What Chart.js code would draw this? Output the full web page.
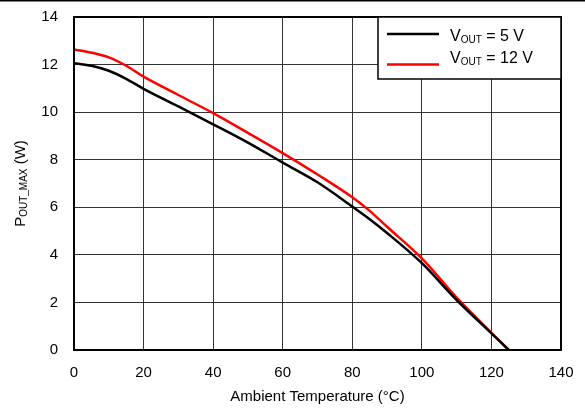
<!DOCTYPE html>
<html>
<head>
<meta charset="utf-8">
<script src="https://cdn.jsdelivr.net/npm/chart.js@4/dist/chart.umd.min.js"></script>
<style>
  html, body { margin: 0; padding: 0; background: #fff; }
  #wrap { width: 585px; height: 411px; }
</style>
</head>
<body>
<div id="wrap"><canvas id="myChart" width="585" height="411"></canvas></div>
<script>
// values
var temps = [0, 5, 10, 15, 20, 30, 40, 50, 60, 70, 80, 85, 90, 100, 110, 120, 125]
var pout5 = [12.06, 11.95, 11.74, 11.4, 10.98, 10.24, 9.49, 8.72, 7.88, 7.05, 6.03, 5.5, 4.92, 3.65, 2.1, 0.7, 0]
var pout12 = [12.63, 12.5, 12.3, 11.95, 11.49, 10.72, 9.96, 9.13, 8.28, 7.38, 6.42, 5.85, 5.18, 3.85, 2.2, 0.72, 0]
var xTicks = [0, 20, 40, 60, 80, 100, 120, 140]
var yTicks = [0, 2, 4, 6, 8, 10, 12, 14]
var seriesNames = ['5 V', '12 V']
var seriesColors = ['#000000', '#ff0000']

var FONT = '"Liberation Sans", Arial, sans-serif'

function toPoints(ys) {
  return temps.map((t, i) => ({ x: t, y: ys[i] }))
}

// draws "V" + subscript "OUT" + rest, returns width
function subText(ctx, x, y, main, sub, rest, size) {
  ctx.font = size + 'px ' + FONT
  ctx.fillText(main, x, y)
  var w = ctx.measureText(main).width
  ctx.font = Math.round(size * 0.65) + 'px ' + FONT
  ctx.fillText(sub, x + w, y + size * 0.22)
  w += ctx.measureText(sub).width
  ctx.font = size + 'px ' + FONT
  ctx.fillText(rest, x + w, y)
  w += ctx.measureText(rest).width
  return w
}

function subWidth(ctx, main, sub, rest, size) {
  ctx.font = size + 'px ' + FONT
  var w = ctx.measureText(main).width + ctx.measureText(rest).width
  ctx.font = Math.round(size * 0.65) + 'px ' + FONT
  return w + ctx.measureText(sub).width
}

var decorPlugin = {
  id: 'decor',
  afterDraw(chart) {
    var ctx = chart.ctx
    var a = chart.chartArea
    ctx.save()
    // frame
    ctx.strokeStyle = '#000'
    ctx.lineWidth = 2
    ctx.strokeRect(a.left, a.top, a.right - a.left, a.bottom - a.top)
    // top rule of the figure
    ctx.fillStyle = '#000'
    ctx.fillRect(0, 0, 585, 1.5)

    // legend box
    var bx = 378, by = a.top, bw = a.right - bx, bh = 62
    ctx.fillStyle = '#fff'
    ctx.fillRect(bx, by, bw, bh)
    ctx.lineWidth = 1.5
    ctx.strokeStyle = '#000'
    ctx.strokeRect(bx, by, bw, bh)
    var lineY = [34, 64.5]
    var textY = [37, 59]
    ctx.textBaseline = 'middle'
    ctx.textAlign = 'left'
    for (var i = 0; i < seriesNames.length; i++) {
      ctx.strokeStyle = seriesColors[i]
      ctx.lineWidth = 2.5
      ctx.beginPath()
      ctx.moveTo(387, lineY[i])
      ctx.lineTo(439, lineY[i])
      ctx.stroke()
      ctx.fillStyle = '#000'
      subText(ctx, 450, textY[i], 'V', 'OUT', ' = ' + seriesNames[i], 16)
    }

    // x axis title
    ctx.fillStyle = '#000'
    ctx.font = '15px ' + FONT
    ctx.textAlign = 'center'
    ctx.fillText('Ambient Temperature (°C)', (a.left + a.right) / 2, 397)

    // y axis title with subscript
    ctx.translate(21, (a.top + a.bottom) / 2)
    ctx.rotate(-Math.PI / 2)
    ctx.textAlign = 'left'
    var w = subWidth(ctx, 'P', 'OUT_MAX', ' (W)', 15)
    subText(ctx, -w / 2, 0, 'P', 'OUT_MAX', ' (W)', 15)
    ctx.restore()
  }
}

var ctx = document.getElementById('myChart').getContext('2d')
var chartOne = new Chart(ctx, {
  type: 'line',
  data: {
    datasets: [{
      label: 'VOUT = 5 V',
      data: toPoints(pout5),
      borderColor: seriesColors[0],
      borderWidth: 2.5,
      pointRadius: 0,
      cubicInterpolationMode: 'monotone'
    }, {
      label: 'VOUT = 12 V',
      data: toPoints(pout12),
      borderColor: seriesColors[1],
      borderWidth: 2.5,
      pointRadius: 0,
      cubicInterpolationMode: 'monotone'
    }]
  },
  options: {
    responsive: false,
    animation: false,
    layout: { padding: { left: 0, right: 24, top: 17, bottom: 0 } },
    plugins: { legend: { display: false }, tooltip: { enabled: false } },
    scales: {
      x: {
        type: 'linear',
        min: 0, max: 140,
        afterBuildTicks: s => { s.ticks = xTicks.map(v => ({ value: v })) },
        afterFit: s => { s.height = 61; s.paddingLeft = 0; s.paddingRight = 0 },
        grid: { color: '#333', lineWidth: 1, drawTicks: false },
        border: { display: false },
        ticks: { color: '#000', padding: 14, font: { family: FONT, size: 15 }, maxRotation: 0 }
      },
      y: {
        min: 0, max: 14,
        afterBuildTicks: s => { s.ticks = yTicks.map(v => ({ value: v })) },
        afterFit: s => { s.width = 74; s.paddingTop = 0; s.paddingBottom = 0 },
        grid: { color: '#333', lineWidth: 1, drawTicks: false },
        border: { display: false },
        ticks: { color: '#000', padding: 16, font: { family: FONT, size: 15 } }
      }
    }
  },
  plugins: [decorPlugin]
})
</script>
</body>
</html>
